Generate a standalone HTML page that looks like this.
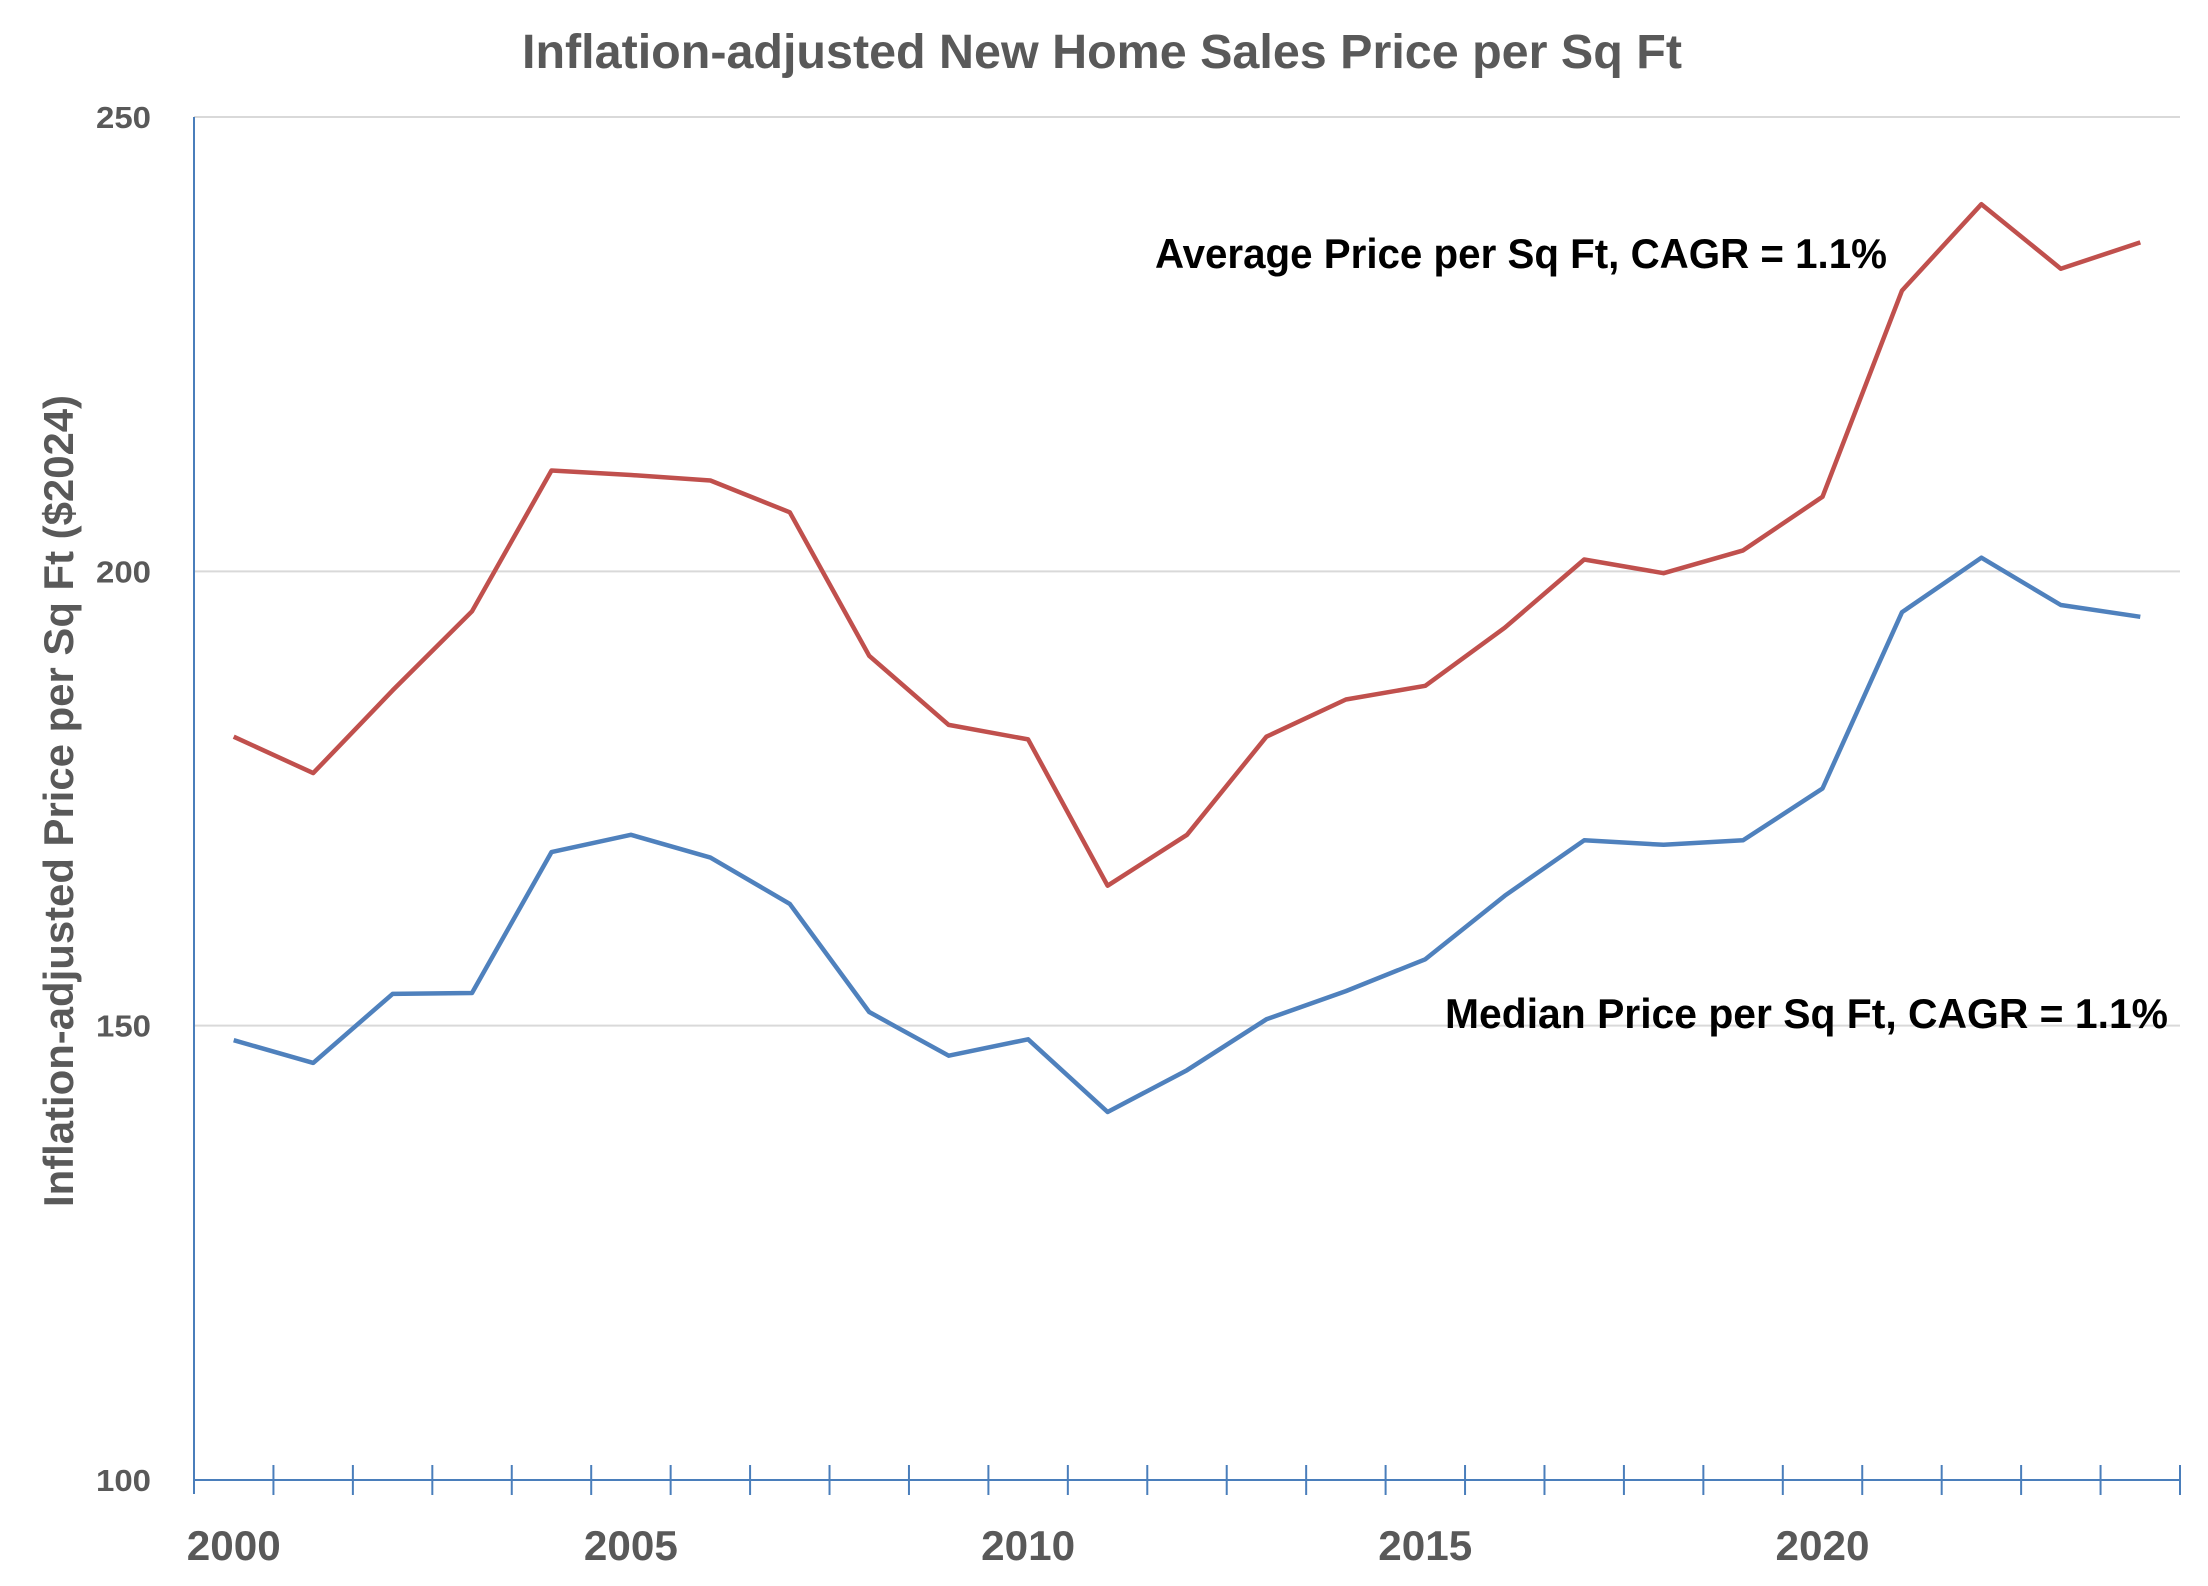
<!DOCTYPE html>
<html><head><meta charset="utf-8"><style>
html,body{margin:0;padding:0;background:#fff;}
svg{display:block;font-family:"Liberation Sans",sans-serif;font-weight:bold;}
</style></head><body>
<svg id="chart" width="2208" height="1586" viewBox="0 0 2208 1586">
<text x="1102" y="68" text-anchor="middle" font-size="48" fill="#595959" textLength="1160" lengthAdjust="spacingAndGlyphs">Inflation-adjusted New Home Sales Price per Sq Ft</text>
<text transform="translate(73,801) rotate(-90)" text-anchor="middle" font-size="42" fill="#595959" textLength="812" lengthAdjust="spacingAndGlyphs">Inflation-adjusted Price per Sq Ft ($2024)</text>
<g id="grid"></g>
<g id="axes"></g>
<g id="series"></g>
<text x="1155" y="268" font-size="42" fill="#000" textLength="732" lengthAdjust="spacingAndGlyphs">Average Price per Sq Ft, CAGR = 1.1%</text>
<text x="1445" y="1028" font-size="42" fill="#000" textLength="723" lengthAdjust="spacingAndGlyphs">Median Price per Sq Ft, CAGR = 1.1%</text>
</svg>
<script>
const years = [2000,2001,2002,2003,2004,2005,2006,2007,2008,2009,2010,2011,2012,2013,2014,2015,2016,2017,2018,2019,2020,2021,2022,2023,2024];
const averageValues = [181.8,177.8,186.9,195.6,211.1,210.6,210.0,206.5,190.7,183.1,181.5,165.4,171.0,181.8,185.9,187.4,193.8,201.3,199.8,202.3,208.2,230.9,240.4,233.3,236.2];
const medianValues = [148.4,145.9,153.5,153.6,169.1,171.0,168.5,163.4,151.5,146.7,148.5,140.5,145.1,150.7,153.8,157.3,164.3,170.4,169.9,170.4,176.1,195.5,201.5,196.3,195.0];
const yTicks = [100,150,200,250];
const xLabelYears = [2000,2005,2010,2015,2020];

const NS = "http://www.w3.org/2000/svg";
const X0 = 194, BAND = (2180 - 194) / years.length;
const Y_TOP = 117, Y_BOT = 1480, YMIN = 100, YMAX = 250;
function xPos(i){ return X0 + BAND * (i + 0.5); }
function yPos(v){ return Y_BOT - (v - YMIN) / (YMAX - YMIN) * (Y_BOT - Y_TOP); }
function mk(tag, attrs, parent){ const e=document.createElementNS(NS,tag); for(const k in attrs) e.setAttribute(k,attrs[k]); parent.appendChild(e); return e; }

const grid = document.getElementById('grid');
const axes = document.getElementById('axes');
const series = document.getElementById('series');

yTicks.forEach(t => {
  if (t !== YMIN) {
    const g = mk('line', {x1:X0, x2:2180, y1:yPos(t), y2:yPos(t), stroke:'#d9d9d9', 'stroke-width':2}, grid);
    
    
  }
  const lb = mk('text', {x:151, y:yPos(t)+11, 'text-anchor':'end', 'font-size':31, fill:'#595959', textLength:55, lengthAdjust:'spacingAndGlyphs'}, axes);
  lb.textContent = t;
  
  
});

const ya = mk('line', {x1:X0, x2:X0, y1:Y_TOP, y2:Y_BOT+14, stroke:'#4a7ebb', 'stroke-width':2}, axes);


const xa = mk('line', {x1:X0, x2:2180, y1:Y_BOT, y2:Y_BOT, stroke:'#4a7ebb', 'stroke-width':2}, axes);


for (let i = 1; i <= years.length; i++) {
  const tk = mk('line', {x1:X0+BAND*i, x2:X0+BAND*i, y1:Y_BOT-15, y2:Y_BOT+15, stroke:'#4a7ebb', 'stroke-width':2}, axes);
  
  
}
xLabelYears.forEach(yr => {
  const i = years.indexOf(yr);
  const lb = mk('text', {x:xPos(i), y:1560, 'text-anchor':'middle', 'font-size':42, fill:'#595959', textLength:94, lengthAdjust:'spacingAndGlyphs'}, axes);
  lb.textContent = yr;
  
  
});

function drawLine(vals, color, name){
  const pts = vals.map((v,i) => xPos(i).toFixed(1) + ',' + yPos(v).toFixed(1)).join(' ');
  const pl = mk('polyline', {points:pts, fill:'none', stroke:color, 'stroke-width':4.5, 'stroke-linejoin':'round'}, series);
  
  
}
drawLine(averageValues, '#c0504d', 'average-price-line');
drawLine(medianValues, '#4f81bd', 'median-price-line');
</script>
</body></html>
